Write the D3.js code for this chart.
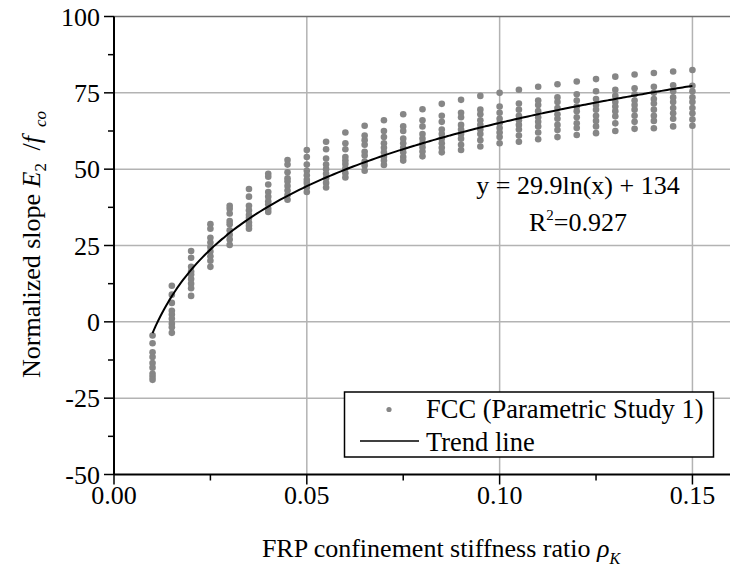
<!DOCTYPE html>
<html>
<head>
<meta charset="utf-8">
<script src="https://cdn.jsdelivr.net/npm/d3@7"></script>
<style>
  html, body { margin: 0; padding: 0; background: #fff; }
  svg { display: block; }
  text { font-family: "Liberation Serif", "Times New Roman", serif; fill: #000; }
</style>
</head>
<body>
<svg id="chart" width="730" height="574"></svg>
<script>
// ---- data ----
const rhoK = [0.010, 0.015, 0.020, 0.025, 0.030, 0.035, 0.040, 0.045, 0.050, 0.055,
              0.060, 0.065, 0.070, 0.075, 0.080, 0.085, 0.090, 0.095, 0.100, 0.105,
              0.110, 0.115, 0.120, 0.125, 0.130, 0.135, 0.140, 0.145, 0.150];
const normalizedSlope = [
  [-4.5, -7, -10, -11.5, -13.5, -15, -17, -18, -19],
  [11.8, 8.9, 6.2, 3.6, 2.4, 1, -0.6, -1.8, -3.6],
  [23.2, 21, 18, 16.5, 15.5, 14, 12.5, 11, 8.5],
  [32, 30.5, 27.5, 26, 24.5, 23, 21.5, 20, 18],
  [38, 37, 35.5, 33, 32, 30, 28.5, 27, 25.2],
  [43.5, 41, 38, 36.5, 35, 34, 32.5, 31.5, 30.5],
  [48.5, 47.5, 45, 42.5, 41, 39.5, 38.5, 37, 36],
  [53, 51.5, 49, 47, 46, 44.5, 43, 41.5, 40],
  [56.3, 54, 51.5, 49.5, 48, 46.5, 45.5, 44, 42.5],
  [59, 56.5, 53.5, 51.5, 50, 48.5, 47, 45.5, 44],
  [62, 58.5, 56.5, 54, 52.8, 51.7, 50.3, 48.7, 47.3],
  [64.2, 61, 59.5, 58, 55.7, 54.5, 52.5, 51.2, 49.5],
  [66, 62.5, 60.5, 58.5, 57, 55.5, 54, 52.8, 51.4],
  [68, 64, 62.5, 60, 58.5, 57, 55.5, 54, 52.8],
  [69.6, 66, 64, 61.5, 60, 58.5, 57.2, 55.8, 54.2],
  [71.4, 67.5, 65.5, 63, 61.5, 60, 58.5, 57, 55.5],
  [72.7, 68.5, 67, 64.5, 63, 61.5, 60, 58, 56.3],
  [74, 69.5, 68, 66, 64.5, 63, 61.5, 59.5, 57.4],
  [75, 70.5, 68.5, 66.5, 65, 63.5, 62, 60.5, 58.5],
  [76, 71.5, 69.5, 67.5, 66, 64.5, 63, 61, 59],
  [77, 72.5, 71, 69, 67, 65.5, 64, 62, 59.8],
  [77.8, 73.5, 72, 70, 68, 66.5, 64.5, 62.8, 60.5],
  [78.7, 74.5, 72.5, 70.5, 69, 67, 65, 63.5, 61.2],
  [79.5, 75.5, 73, 71, 69.5, 67.5, 65.8, 64, 61.8],
  [80.3, 76, 74, 72, 70.5, 69, 67.3, 65, 62.5],
  [81, 76.5, 74.5, 72.5, 71, 69.5, 67.5, 65.5, 63.2],
  [81.5, 77, 75, 73, 71.5, 69.5, 67.5, 65.8, 63.4],
  [82, 77.5, 75.5, 73.5, 72, 70, 68.3, 66.5, 64],
  [82.5, 77.3, 75.5, 73.5, 72, 70, 68.3, 66.3, 64.2]
];
// trend line coefficients: y = a ln(x) + b
const trendA = [29.9];
const trendB = [134];
const xTicks = [0.00, 0.05, 0.10, 0.15];
const yTicks = [-50, -25, 0, 25, 50, 75, 100];
const legendLabels = ["FCC (Parametric Study 1)", "Trend line"];

// ---- chart ----
const FS = 26;
const svg = d3.select("#chart");
const x = d3.scaleLinear().domain([0, 0.16]).range([114, 731]);
const y = d3.scaleLinear().domain([-50, 100]).range([474.5, 16.5]);

// grid
const grid = svg.append("g");
grid.selectAll("line.vg").data(xTicks.filter(d => d > 0)).enter().append("line")
  .attr("x1", d => x(d)).attr("x2", d => x(d))
  .attr("y1", y(-50)).attr("y2", y(100))
  .attr("stroke", "#b3b3b3").attr("stroke-width", 1.5);
grid.selectAll("line.hg").data(yTicks.filter(d => d > -50 && d < 100)).enter().append("line")
  .attr("x1", x(0)).attr("x2", 730)
  .attr("y1", d => y(d)).attr("y2", d => y(d))
  .attr("stroke", "#b3b3b3").attr("stroke-width", 1.5);
// top line
svg.append("line").attr("x1", x(0)).attr("x2", 730).attr("y1", y(100)).attr("y2", y(100))
  .attr("stroke", "#6e6e6e").attr("stroke-width", 1.5);

// points
const pts = [];
rhoK.forEach((r, i) => normalizedSlope[i].forEach(v => pts.push([r, v])));
svg.append("g").selectAll("circle").data(pts).enter().append("circle")
  .attr("cx", d => x(d[0])).attr("cy", d => y(d[1])).attr("r", 3.3)
  .attr("fill", "#868686");

// trend line
const trend = rhoK.flatMap((r, i) => i < rhoK.length - 1
  ? d3.range(0, 5).map(k => r + k * (rhoK[i + 1] - r) / 5)
  : [r]);
svg.append("path")
  .datum(trend)
  .attr("d", d3.line().x(d => x(d)).y(d => y(trendA[0] * Math.log(d) + trendB[0])).curve(d3.curveMonotoneX))
  .attr("fill", "none").attr("stroke", "#000").attr("stroke-width", 2);

// axes
const ax = svg.append("g").attr("transform", `translate(0,${y(-50)})`);
ax.append("line").attr("x1", x(0)).attr("x2", 730).attr("stroke", "#000").attr("stroke-width", 2);
ax.selectAll("line.tk").data(d3.range(0, 7).map(i => i * 0.025)).enter().append("line")
  .attr("x1", d => x(d)).attr("x2", d => x(d)).attr("y1", 0)
  .attr("y2", (d, i) => i % 2 === 0 ? 10 : 6)
  .attr("stroke", "#000").attr("stroke-width", 1.5);
ax.selectAll("text").data(xTicks).enter().append("text")
  .attr("x", d => x(d)).attr("y", 29).attr("text-anchor", "middle")
  .attr("font-size", FS).text(d => d3.format(".2f")(d));

const ay = svg.append("g").attr("transform", `translate(${x(0)},0)`);
ay.append("line").attr("y1", y(-50)).attr("y2", y(100)).attr("stroke", "#000").attr("stroke-width", 2);
ay.selectAll("line.tk").data(d3.range(0, 13).map(i => -50 + i * 12.5)).enter().append("line")
  .attr("y1", d => y(d)).attr("y2", d => y(d)).attr("x1", 0)
  .attr("x2", (d, i) => i % 2 === 0 ? -10 : -6)
  .attr("stroke", "#000").attr("stroke-width", 1.5);
ay.selectAll("text").data(yTicks).enter().append("text")
  .attr("x", -14).attr("y", d => y(d) + 9).attr("text-anchor", "end")
  .attr("font-size", FS).text(d => d);

// axis titles
const yt = svg.append("text").attr("transform", `translate(40,378) rotate(-90)`)
  .attr("text-anchor", "start").attr("font-size", FS);
yt.append("tspan").text("Normalized slope ");
yt.append("tspan").attr("font-style", "italic").text("E");
yt.append("tspan").attr("font-size", 17).attr("dy", 6).text("2");
yt.append("tspan").attr("dy", -6).attr("dx", 6).text(" /");
yt.append("tspan").attr("font-style", "italic").text("f");
yt.append("tspan").attr("font-style", "italic").attr("font-size", 17).attr("dy", 6).attr("dx", 9).text("co");

const xt = svg.append("text").attr("x", 441).attr("y", 557).attr("text-anchor", "middle").attr("font-size", FS);
xt.append("tspan").text("FRP confinement stiffness ratio ");
xt.append("tspan").attr("font-style", "italic").text("ρ");
xt.append("tspan").attr("font-style", "italic").attr("font-size", 16).attr("dy", 7).text("K");

// equation
svg.append("text").attr("x", 578).attr("y", 194).attr("text-anchor", "middle").attr("font-size", FS)
  .text("y = " + trendA[0] + "ln(x) + " + trendB[0]);
const r2 = svg.append("text").attr("x", 578).attr("y", 231).attr("text-anchor", "middle").attr("font-size", FS);
r2.append("tspan").text("R");
r2.append("tspan").attr("font-size", 15).attr("dy", -11).text("2");
r2.append("tspan").attr("dy", 11).text("=0.927");

// legend
const lg = svg.append("g");
lg.append("rect").attr("x", 344.5).attr("y", 392).attr("width", 369).attr("height", 65)
  .attr("fill", "#fff").attr("stroke", "#000").attr("stroke-width", 1.5);
lg.append("circle").attr("cx", 389).attr("cy", 409.5).attr("r", 2.6).attr("fill", "#868686");
lg.append("line").attr("x1", 360).attr("x2", 419).attr("y1", 441).attr("y2", 441)
  .attr("stroke", "#000").attr("stroke-width", 1.5);
lg.selectAll("text").data(legendLabels).enter().append("text")
  .attr("x", 426).attr("y", (d, i) => 418 + i * 33).attr("font-size", 26.5).text(d => d);
</script>
</body>
</html>
